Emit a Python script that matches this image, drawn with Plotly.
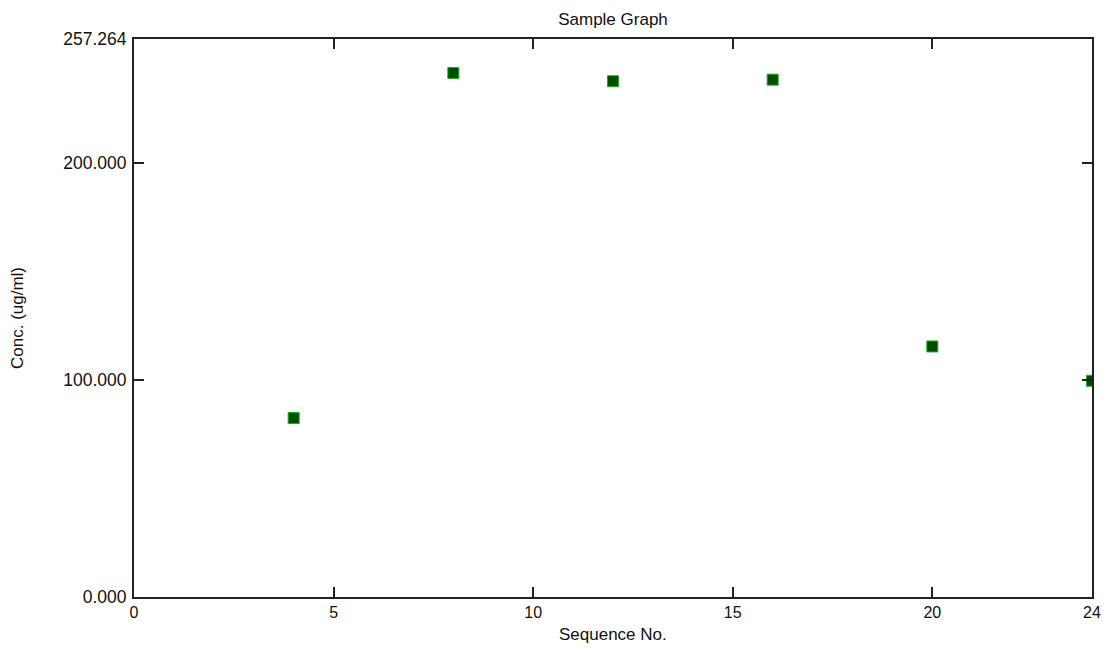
import plotly.graph_objects as go

seq_no = [4, 8, 12, 16, 20, 24]
conc = [82.5, 241.6, 237.8, 238.5, 115.5, 99.7]

x_ticks = [0, 5, 10, 15, 20, 24]
x_tick_labels = ["0", "5", "10", "15", "20", "24"]
y_ticks = [0, 100, 200, 257.264]
y_tick_labels = ["0.000", "100.000", "200.000", "257.264"]

FONT = "Liberation Sans, Arial, sans-serif"
TXT = "#111111"

fig = go.Figure()
fig.add_trace(go.Scatter(
    x=seq_no, y=conc, mode="markers",
    marker=dict(symbol="square", size=11, color="#004d00",
                line=dict(color="#22aa22", width=1)),
    cliponaxis=True, showlegend=False,
))

axis_common = dict(
    showgrid=False, zeroline=False, showline=True, linecolor="#222222",
    linewidth=2, mirror="ticks", ticks="inside", ticklen=10, tickwidth=2,
    tickcolor="#222222", automargin=False,
)

fig.update_xaxes(range=[0, 24], tickvals=x_ticks, ticktext=x_tick_labels,
                 tickfont=dict(family=FONT, size=16, color=TXT),
                 **axis_common)
fig.update_yaxes(range=[0, 257.264], tickvals=y_ticks, ticktext=y_tick_labels,
                 tickfont=dict(family=FONT, size=17.5, color=TXT),
                 ticklabelstandoff=2,
                 title=dict(text="Conc. (ug/ml)", font=dict(family=FONT, size=17, color=TXT), standoff=38),
                 **axis_common)

fig.add_annotation(text="Sequence No.", xref="paper", yref="paper", x=0.5, y=0,
                   xanchor="center", yanchor="middle", yshift=-37, showarrow=False,
                   font=dict(family=FONT, size=17, color=TXT))

W, H = 1094, 641
fig.update_layout(
    width=W, height=H,
    margin=dict(l=126, r=10, t=31, b=52),
    paper_bgcolor="white", plot_bgcolor="white",
    title=dict(text="Sample Graph", x=(126 + 1084) / 2 / W, xanchor="center",
               y=1 - 11 / H, yanchor="middle",
               font=dict(family=FONT, size=17, color=TXT)),
)

fig.write_html("out.html")
